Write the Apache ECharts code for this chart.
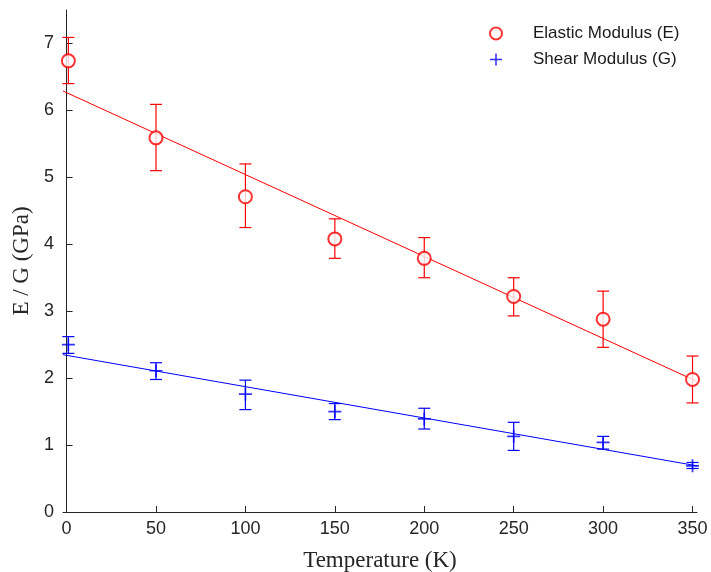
<!DOCTYPE html>
<html>
<head>
<meta charset="utf-8">
<script src="https://cdn.jsdelivr.net/npm/echarts@6/dist/echarts.min.js"></script>
<style>
  html, body { margin: 0; padding: 0; background: #fff; }
  #chart { width: 711px; height: 572px; }
</style>
</head>
<body>
<div id="chart"></div>
<script>
// temperatures (K)
var temps = [1, 50, 100, 150, 200, 250, 300, 350];
// elastic modulus E (GPa) with error bar bounds
var eVals = [6.74, 5.59, 4.71, 4.08, 3.79, 3.22, 2.88, 1.98];
var eHigh = [7.09, 6.09, 5.20, 4.38, 4.10, 3.50, 3.30, 2.33];
var eLow  = [6.40, 5.10, 4.25, 3.79, 3.50, 2.93, 2.46, 1.63];
// shear modulus G (GPa)
var gVals = [2.50, 2.11, 1.76, 1.50, 1.39, 1.13, 1.04, 0.69];
var gHigh = [2.62, 2.23, 1.97, 1.62, 1.55, 1.34, 1.13, 0.74];
var gLow  = [2.37, 1.98, 1.53, 1.38, 1.24, 0.92, 0.94, 0.65];
// linear fit lines, read at the ends of the x range
var fitX = [-2, 352.5];
var eFit = [6.29, 1.95];
var gFit = [2.35, 0.69];
// ticks
var xTicks = [0, 50, 100, 150, 200, 250, 300, 350];
var yTicks = [0, 1, 2, 3, 4, 5, 6, 7];

var axisColor = '#262626';

function pairs(xs, ys) {
    return xs.map(function (x, i) { return [x, ys[i]]; });
}

function errorBars(color) {
    return function (params, api) {
        var x = api.value(0);
        var lo = api.coord([x, api.value(1)]);
        var hi = api.coord([x, api.value(2)]);
        var w = 6;
        var style = { stroke: color, lineWidth: 1.2 };
        return {
            type: 'group',
            children: [
                { type: 'line', shape: { x1: lo[0], y1: lo[1], x2: hi[0], y2: hi[1] }, style: style },
                { type: 'line', shape: { x1: lo[0] - w, y1: lo[1], x2: lo[0] + w, y2: lo[1] }, style: style },
                { type: 'line', shape: { x1: hi[0] - w, y1: hi[1], x2: hi[0] + w, y2: hi[1] }, style: style }
            ]
        };
    };
}

var plusPath = 'path://M4.35,0h1.3v10h-1.3z M0,4.35h10v1.3h-10z';

var myChart = echarts.init(document.getElementById('chart'));
var option = {
    backgroundColor: '#fff',
    animation: false,
    grid: { left: 63, right: 14, top: 10, bottom: 60, outerBoundsMode: 'none' },
    legend: {
        orient: 'vertical',
        left: 484,
        top: 20,
        itemWidth: 64,
        itemHeight: 12,
        itemGap: 9,
        textStyle: { fontFamily: 'Liberation Sans', fontSize: 17, color: '#1a1a1a' },
        data: ['Elastic Modulus (E)', 'Shear Modulus (G)']
    },
    xAxis: {
        type: 'value',
        min: -2,
        max: 352.5,
        name: 'Temperature (K)',
        nameLocation: 'middle',
        nameGap: 37,
        nameTextStyle: { fontFamily: 'Liberation Serif', fontSize: 23, color: axisColor },
        splitLine: { show: false },
        axisLine: { lineStyle: { color: axisColor, width: 1 } },
        axisTick: { inside: true, length: 6, customValues: xTicks, lineStyle: { color: axisColor } },
        axisLabel: { customValues: xTicks, margin: 8, fontFamily: 'Liberation Sans', fontSize: 18, color: axisColor }
    },
    yAxis: {
        type: 'value',
        min: 0,
        max: 7.5,
        name: 'E / G (GPa)',
        nameLocation: 'middle',
        nameGap: 30,
        nameTextStyle: { fontFamily: 'Liberation Serif', fontSize: 23, color: axisColor },
        splitLine: { show: false },
        axisLine: { show: true, lineStyle: { color: axisColor, width: 1 } },
        axisTick: { show: true, inside: true, length: 6, customValues: yTicks, lineStyle: { color: axisColor } },
        axisLabel: { customValues: yTicks, margin: 9, fontFamily: 'Liberation Sans', fontSize: 18, color: axisColor }
    },
    series: [
        {
            name: 'E fit',
            type: 'line',
            data: pairs(fitX, eFit),
            symbol: 'none',
            lineStyle: { color: '#ff0000', width: 1 },
            silent: true
        },
        {
            name: 'G fit',
            type: 'line',
            data: pairs(fitX, gFit),
            symbol: 'none',
            lineStyle: { color: '#0000ff', width: 1 },
            silent: true
        },
        {
            name: 'E err',
            type: 'custom',
            renderItem: errorBars('#ff0000'),
            data: temps.map(function (t, i) { return [t, eLow[i], eHigh[i]]; }),
            z: 3
        },
        {
            name: 'G err',
            type: 'custom',
            renderItem: errorBars('#0000ff'),
            data: temps.map(function (t, i) { return [t, gLow[i], gHigh[i]]; }),
            z: 3
        },
        {
            name: 'Elastic Modulus (E)',
            type: 'scatter',
            data: pairs(temps, eVals),
            symbol: 'emptyCircle',
            symbolSize: 13,
            itemStyle: { color: '#ff0000', borderColor: '#ff0000', borderWidth: 1.3 },
            z: 4
        },
        {
            name: 'Shear Modulus (G)',
            type: 'scatter',
            data: pairs(temps, gVals),
            symbol: plusPath,
            symbolSize: 13,
            itemStyle: { color: '#0000ff' },
            z: 4
        }
    ]
};
myChart.setOption(option);
window.addEventListener('resize', function () {
    myChart.resize();
});
</script>
</body>
</html>
